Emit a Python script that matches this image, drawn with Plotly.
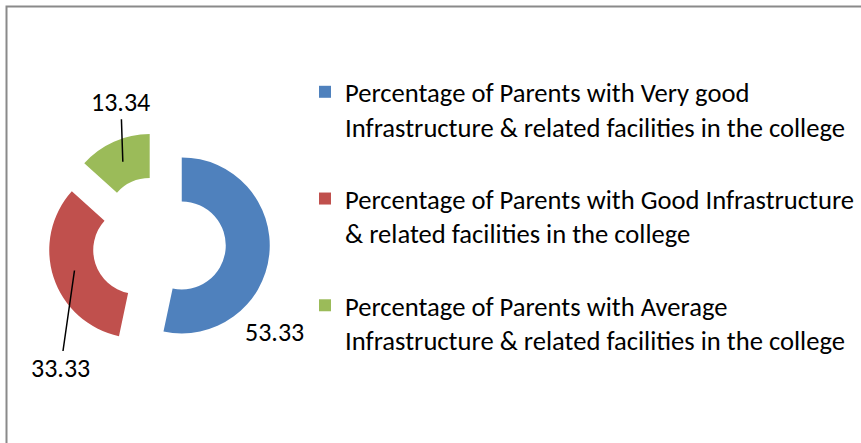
import math

import plotly.graph_objects as go

# ── data ──────────────────────────────────────────────────────────
labels = [
    "Percentage of Parents with Very good<br>Infrastructure & related facilities in the college",
    "Percentage of Parents with Good Infrastructure<br>& related facilities in the college",
    "Percentage of Parents with Average<br>Infrastructure & related facilities in the college",
]
values = [53.33, 33.33, 13.34]
colors = ["#4F81BD", "#C0504D", "#9BBB59"]

# ── layout constants (px) ─────────────────────────────────────────
W, H = 861, 443
CX, CY, R = 159, 243, 88        # unpulled pie centre / outer radius
PULL = 0.26
HOLE = 0.5
FONT = "Carlito, Calibri, 'Liberation Sans', Arial, sans-serif"

half = R * (1 + PULL)
domain_x = [(CX - half) / W, (CX + half) / W]
domain_y = [1 - (CY + half) / H, 1 - (CY - half) / H]

# blank trailing line = spacing between legend entries
legend_labels = [l + "<br> " for l in labels]

fig = go.Figure(go.Pie(
    labels=legend_labels, values=values, sort=False, direction="clockwise",
    rotation=0, hole=HOLE, pull=PULL,
    marker=dict(colors=colors, line=dict(width=0)),
    textinfo="none", hovertemplate="%{value}<extra></extra>",
    domain=dict(x=domain_x, y=domain_y),
))

# data labels: arrow tips sit on the middle of each ring segment
offsets = [(27, 80, False), (-14, 98, True), (-2, -60, True)]
total = sum(values)
cum = 0.0
for v, (ax, ay, arrow) in zip(values, offsets):
    mid = (cum + v / 2) / total * 2 * math.pi
    cum += v
    sx, sy = math.sin(mid), -math.cos(mid)
    r_mid = R * (1 + HOLE) / 2
    px = CX + PULL * R * sx + r_mid * sx
    py = CY + PULL * R * sy + r_mid * sy
    fig.add_annotation(
        x=px / W, y=1 - py / H, xref="paper", yref="paper",
        text=f"{v:.2f}", showarrow=True, ax=ax, ay=ay,
        arrowhead=0, arrowwidth=1.5,
        arrowcolor="black" if arrow else "rgba(0,0,0,0)",
        font=dict(family=FONT, size=26, color="black"),
    )

# chart-area border (only top and left edges visible)
fig.add_shape(type="rect", xref="paper", yref="paper",
              x0=6.5 / W, x1=1.2, y0=-0.2, y1=1 - 6.5 / H,
              line=dict(color="#8a8a8a", width=2))

fig.update_layout(
    width=W, height=H, margin=dict(l=0, r=0, t=0, b=0),
    paper_bgcolor="white", plot_bgcolor="white",
    font=dict(family=FONT, size=26.6, color="black"),
    showlegend=True,
    legend=dict(x=305 / W, xanchor="left", y=1 - 68 / H, yanchor="top",
                valign="top", bgcolor="rgba(0,0,0,0)",
                font=dict(family=FONT, size=26.6, color="black"),
                tracegroupgap=0),
)

fig.write_html("out.html", config={"displayModeBar": False},
               post_script="document.body.style.margin='0';")
